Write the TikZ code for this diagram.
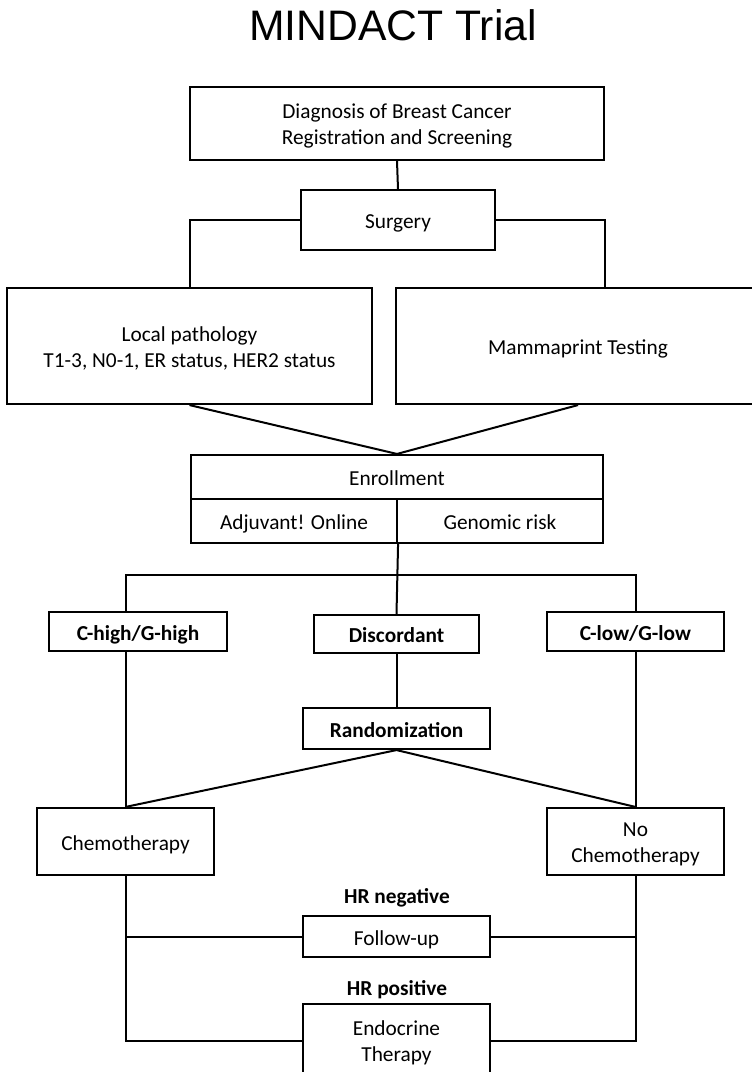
\documentclass[tikz,border=0pt]{standalone}
\usepackage{fontspec}
\setmainfont{Carlito}
\newfontfamily\headfont{Liberation Sans}
\usetikzlibrary{calc}
\newcommand\boxstrut{\rule[-3pt]{0pt}{19pt}}
\newcommand\tallstrut{\rule[-3pt]{0pt}{37.5pt}}

\begin{document}
\begin{tikzpicture}[x=0.75pt,y=-0.75pt,
  dims/.style 2 args={minimum width=#1*0.75pt,minimum height=#2*0.75pt},
  box/.style={draw,line width=1.6pt,inner sep=0pt,align=center,font=\fontsize{16}{19.5}\selectfont,
    execute at begin node=\boxstrut,execute at end node=\boxstrut},
  twoline/.style={execute at begin node=\tallstrut},
  keybox/.style={box,font=\fontsize{16}{19.5}\selectfont\bfseries},
  tag/.style={inner sep=0pt,font=\fontsize{16}{19.5}\selectfont\bfseries},
  link/.style={line width=1.5pt}]
\useasboundingbox (0,0) rectangle (751,1072);
\node[anchor=base,inner sep=0pt,font=\headfont\fontsize{32}{38}\selectfont] (title) at (393,40) {MINDACT Trial};
% registration and surgery
\node[box,twoline,dims={414}{73}] (diag) at (397,123.5) {Diagnosis of Breast Cancer\\Registration and Screening};
\node[box,dims={194}{60}] (surg) at (398,220) {Surgery};
\node[box,twoline,dims={365}{116}] (local) at (189.5,346) {Local pathology\\T1-3, N0-1, ER status, HER2 status};
\node[box,dims={364}{116}] (mamma) at (578,346) {Mammaprint Testing};
% enrollment
\node[box,dims={412}{44}] (enrol) at (397,477) {Enrollment};
\node[box,dims={206}{44}] (adj) at (294,521) {Adjuvant! Online};
\node[box,dims={206}{44}] (genom) at (500,521) {Genomic risk};
% risk groups
\node[keybox,dims={178}{39}] (chigh) at (138,631.5) {C-high/G-high};
\node[keybox,dims={165}{38}] (disc) at (396.5,634) {Discordant};
\node[keybox,dims={177}{39}] (clow) at (635.5,631.5) {C-low/G-low};
\node[keybox,dims={187}{41}] (rand) at (396.5,728.5) {Randomization};
% treatment
\node[box,dims={177}{67}] (chemo) at (125.5,841.5) {Chemotherapy};
\node[box,twoline,dims={177}{67}] (nochemo) at (635.5,841.5) {No\\Chemotherapy};
\node[tag] (hrneg) at (397,898) {HR negative};
\node[box,dims={187}{41}] (follow) at (396.5,936.5) {Follow-up};
\node[tag] (hrpos) at (397,990) {HR positive};
\node[box,twoline,dims={187}{73}] (endo) at (396.5,1040.5) {Endocrine\\Therapy};
\coordinate (split) at (397,575);
% connectors
\draw[link] (diag.south) -- (surg.north);
\draw[link] (surg.west) -| (local.north);
\draw[link] (surg.east) -| (diag.south east |- mamma.north);
\draw[link] (local.south) -- (enrol.north) -- (mamma.south);
\draw[link] (adj.south east) -- (disc.north);
\draw[link] (chemo.north |- chigh.north) |- (split) -| (clow.north);
\draw[link] (chemo.north |- chigh.south) -- (chemo.north);
\draw[link] (clow.south) -- (nochemo.north);
\draw[link] (disc.south) -- (rand.north);
\draw[link] (chemo.north) -- (rand.south) -- (nochemo.north);
\draw[link] (chemo.south) |- (endo.west);
\draw[link] (chemo.south |- follow.west) -- (follow.west);
\draw[link] (nochemo.south) |- (endo.east);
\draw[link] (nochemo.south |- follow.east) -- (follow.east);
\end{tikzpicture}
\end{document}
